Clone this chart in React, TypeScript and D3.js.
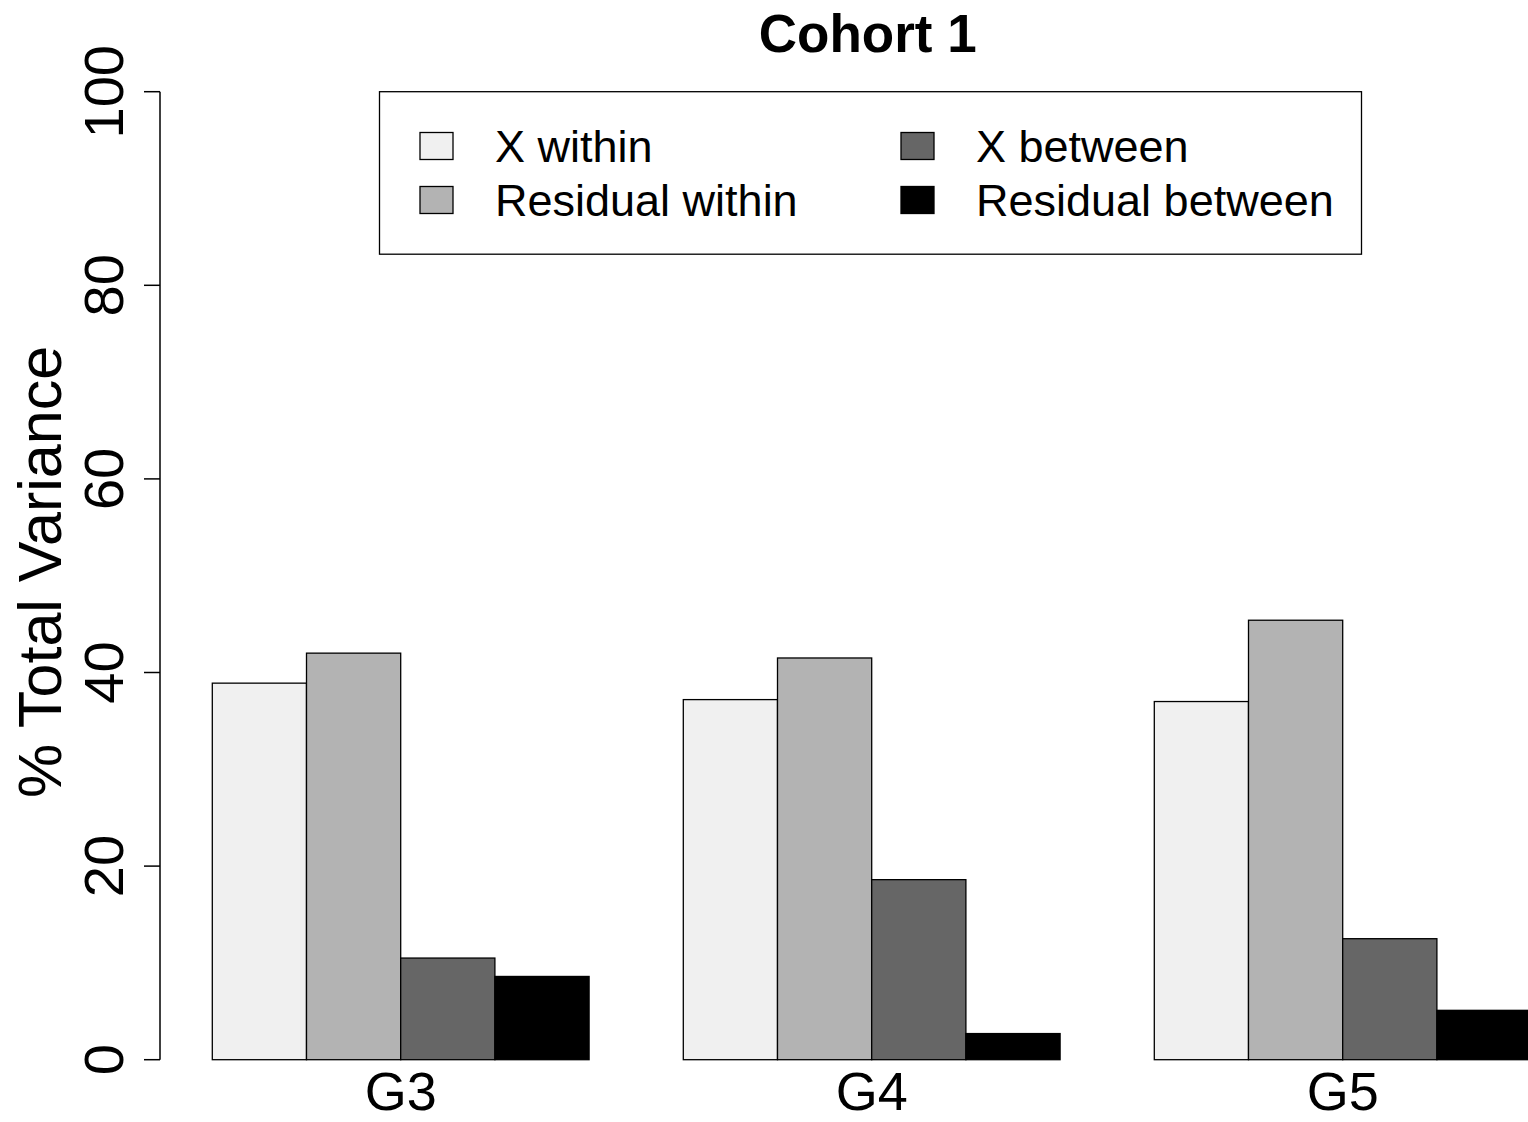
import React from "react";
import * as d3 from "d3";

// values (% of total variance)
const groups = ["G3", "G4", "G5"];
const seriesNames = ["X within", "Residual within", "X between", "Residual between"];
const seriesColors = ["#f0f0f0", "#b3b3b3", "#666666", "#000000"];
const xWithin = [38.9, 37.2, 37.0];
const residualWithin = [42.0, 41.5, 45.4];
const xBetween = [10.5, 18.6, 12.5];
const residualBetween = [8.6, 2.7, 5.1];
const yTicks = [0, 20, 40, 60, 80, 100];

const W = 1528;
const H = 1122;
const FONT = "'Liberation Sans', Arial, Helvetica, sans-serif";

export default function App() {
  const values = [xWithin, residualWithin, xBetween, residualBetween];

  const y = d3.scaleLinear().domain([0, 100]).range([1059.7, 91.7]);
  const unit = 94.2;
  const x0 = 212.3;
  const x = d3
    .scaleBand<string>()
    .domain(groups)
    .range([x0, x0 + 14 * unit])
    .paddingInner(0.2)
    .paddingOuter(0);
  const xi = d3.scaleBand<string>().domain(seriesNames).range([0, x.bandwidth()]);

  // plot region (R style 4% extension) for centring the title
  const plotLeft = x0 - 0.56 * unit;
  const plotRight = x0 + 14.56 * unit;
  const yAxisX = 160;

  const legendRows = [
    { name: seriesNames[0], col: 0, row: 0 },
    { name: seriesNames[1], col: 0, row: 1 },
    { name: seriesNames[2], col: 1, row: 0 },
    { name: seriesNames[3], col: 1, row: 1 },
  ];
  const legCols = [420, 901];
  const legRows = [146, 200];

  return (
    <svg
      width={W}
      height={H}
      style={{ position: "absolute", left: 0, top: 0, background: "#fff" }}
      fontFamily={FONT}
    >
      <rect width={W} height={H} fill="#fff" />

      {/* title */}
      <text
        x={(plotLeft + plotRight) / 2 - 4}
        y={51.5}
        textAnchor="middle"
        fontSize={53}
        fontWeight="bold"
      >
        Cohort 1
      </text>

      {/* bars */}
      {groups.map((g, gi) => (
        <g key={g} transform={`translate(${x(g)},0)`}>
          {seriesNames.map((s, si) => {
            const v = values[si][gi];
            return (
              <rect
                key={s}
                x={xi(s)}
                y={y(v)}
                width={xi.bandwidth()}
                height={y(0) - y(v)}
                fill={seriesColors[si]}
                stroke="#000"
                strokeWidth={1.3}
              />
            );
          })}
          <text
            x={x.bandwidth() / 2}
            y={1110}
            textAnchor="middle"
            fontSize={54}
          >
            {g}
          </text>
        </g>
      ))}

      {/* y axis */}
      <line x1={yAxisX} x2={yAxisX} y1={y(0)} y2={y(100)} stroke="#000" strokeWidth={1.5} />
      {yTicks.map((t) => (
        <g key={t}>
          <line x1={yAxisX - 16} x2={yAxisX} y1={y(t)} y2={y(t)} stroke="#000" strokeWidth={1.5} />
          <text
            transform={`translate(123,${y(t)}) rotate(-90)`}
            textAnchor="middle"
            fontSize={56}
          >
            {t}
          </text>
        </g>
      ))}
      <text
        transform={`translate(61,572) rotate(-90)`}
        textAnchor="middle"
        fontSize={61}
      >
        % Total Variance
      </text>

      {/* legend */}
      <rect x={379.5} y={91.7} width={982} height={162.5} fill="#fff" stroke="#000" strokeWidth={1.3} />
      {legendRows.map((d) => {
        const si = seriesNames.indexOf(d.name);
        const cy = legRows[d.row];
        return (
          <g key={d.name}>
            <rect
              x={legCols[d.col]}
              y={cy - 13.5}
              width={33}
              height={27}
              fill={seriesColors[si]}
              stroke="#000"
              strokeWidth={1.3}
            />
            <text x={legCols[d.col] + 75} y={cy + 16} fontSize={45}>
              {d.name}
            </text>
          </g>
        );
      })}
    </svg>
  );
}
